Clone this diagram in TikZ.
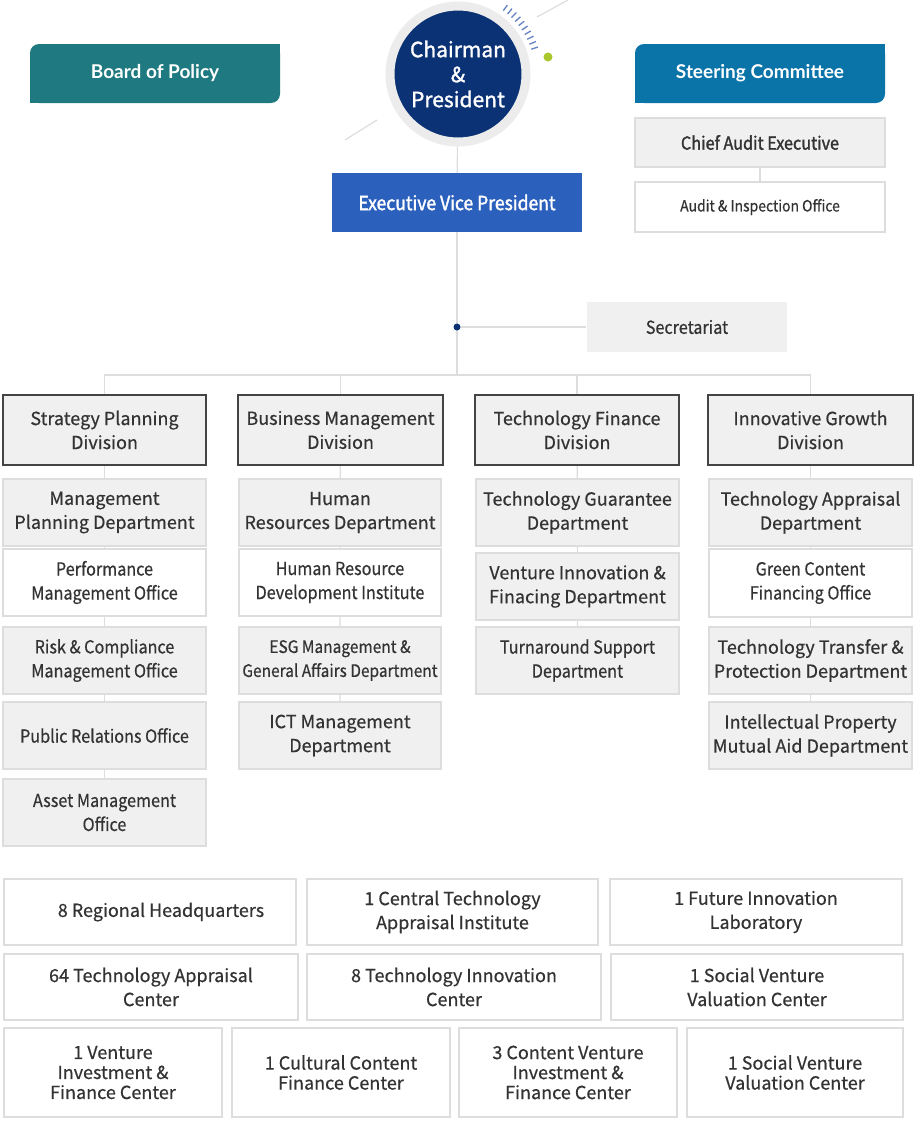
\documentclass[tikz,border=0pt]{standalone}
\usepackage{fontspec}
\setmainfont{Noto Sans CJK KR}[FakeBold=0.5]
\newfontfamily\condfont{Noto Sans CJK KR}[FakeStretch=0.9,FakeBold=0.5]
\newfontfamily\heavyfont{Noto Sans CJK KR}[FakeStretch=0.9,FakeBold=1.6]
\newfontfamily\chairfont{Noto Sans CJK KR}[FakeBold=1.4]
\newfontfamily\latofont{Lato}
\pgfdeclarelayer{background}
\pgfsetlayers{background,main}
\definecolor{navy}{RGB}{12,50,118}
\definecolor{ringgrey}{RGB}{236,236,236}
\definecolor{evpblue}{RGB}{44,96,189}
\definecolor{bopteal}{RGB}{30,122,128}
\definecolor{steerblue}{RGB}{10,115,168}
\definecolor{boxgrey}{RGB}{240,240,240}
\definecolor{edgegrey}{RGB}{221,221,221}
\definecolor{txt}{RGB}{51,51,51}
\definecolor{divedge}{RGB}{68,68,68}
\definecolor{tickblue}{RGB}{100,130,195}
\definecolor{limegreen}{RGB}{170,200,45}
\tikzset{
  base/.style={align=center, inner sep=0pt, text=txt, font=\fontsize{18}{24}\selectfont},
  cond/.style={font=\condfont\fontsize{18}{24}\selectfont},
  dept/.style={base, fill=boxgrey, draw=edgegrey, line width=1.2pt, minimum height=67},
  deptw/.style={dept, fill=white},
  divbox/.style={base, fill=boxgrey, draw=divedge, line width=2.2pt, minimum height=70},
  btm/.style={base, fill=white, draw=edgegrey, line width=2pt, minimum height=66},
  btm3/.style={btm, minimum height=89, font=\fontsize{18}{20}\selectfont},
  conn/.style={draw=edgegrey, line width=1.2pt},
  headbox/.style={minimum width=250, minimum height=59, text=white, inner sep=0pt, rounded corners=9pt, font=\latofont\bfseries\fontsize{19}{22}\selectfont},
  decoline/.style={draw=edgegrey, line width=1.2pt}
}
\begin{document}
\begin{tikzpicture}[x=1pt,y=-1pt]
\useasboundingbox (0,0) rectangle (915,1127);

% decorations round the chairman
\draw[decoline] (568,0) -- (537,17);
\draw[decoline] (377,120) -- (345,140);
\foreach \a in {18,22,...,54} \draw[tickblue, line width=1.3pt] (458,73) ++(\a:77pt) -- ++(\a:7pt);
\fill[limegreen] (548,57) circle (4.5pt);

\node[circle, fill=navy, draw=ringgrey, line width=9pt, minimum size=136, inner sep=0pt, text=white, align=center, font=\chairfont\fontsize{21}{25}\selectfont] (chair) at (458,74) {Chairman\\\&\\President};

% head boxes
\node[headbox, fill=bopteal] (bop) at (155,73.5) {Board of Policy};
\fill[bopteal] (bop.north east) rectangle ++(-12,12);
\fill[bopteal] (bop.south west) rectangle ++(12,-12);
\node[headbox, fill=steerblue] (steer) at (760,73.5) {Steering Committee};
\fill[steerblue] (steer.north east) rectangle ++(-12,12);
\fill[steerblue] (steer.south west) rectangle ++(12,-12);

\node[dept, minimum width=250, minimum height=49, font=\heavyfont\fontsize{18}{22}\selectfont] (cae) at (760,142.5) {Chief Audit Executive};
\node[deptw, minimum width=250, minimum height=50, font=\condfont\fontsize{15.5}{18}\selectfont] (aio) at (760,207) {Audit \& Inspection Office};

\node[fill=evpblue, minimum width=250, minimum height=59, inner sep=0pt, text=white, font=\heavyfont\fontsize{19.5}{22}\selectfont] (evp) at (457,202.5) {Executive Vice President};

\node[circle, fill=navy, inner sep=0pt, minimum size=7] (sdot) at (457,327) {};
\node[dept, draw=none, minimum width=200, minimum height=50, cond] (sec) at (687,327) {Secretariat};
\coordinate (hub) at (457,375);

% divisions
\node[divbox, minimum width=203] (spd) at (104.5,430) {Strategy Planning\\Division};
\node[divbox, minimum width=205] (bmd) at (340.5,430) {Business Management\\Division};
\node[divbox, minimum width=204] (tfd) at (577,430) {Technology Finance\\Division};
\node[divbox, minimum width=205] (igd) at (810.5,430) {Innovative Growth\\Division};

% strategy planning column
\node[dept, minimum width=203] (mp) at (104.5,512.5) {Management\\Planning Department};
\node[deptw, minimum width=203, cond] (pm) at (104.5,582.5) {Performance\\Management Office};
\node[dept, minimum width=203, cond] (rc) at (104.5,660.5) {Risk \& Compliance\\Management Office};
\node[dept, minimum width=203, cond] (pr) at (104.5,735.5) {Public Relations Office};
\node[dept, minimum width=203, cond] (am) at (104.5,812.5) {Asset Management\\Office};

% business management column
\node[dept, minimum width=202] (hr) at (340,512.5) {Human\\Resources Department};
\node[deptw, minimum width=202, cond] (hrd) at (340,582.5) {Human Resource\\Development Institute};
\node[dept, minimum width=202, font=\condfont\fontsize{17.2}{24}\selectfont] (esg) at (340,660.5) {ESG Management \&\\General Affairs Department};
\node[dept, minimum width=202] (ict) at (340,735.5) {ICT Management\\Department};

% technology finance column
\node[dept, minimum width=203] (tg) at (577.5,512.5) {Technology Guarantee\\Department};
\node[dept, minimum width=203] (vi) at (577.5,586.5) {Venture Innovation \&\\Finacing Department};
\node[dept, minimum width=203, cond] (ts) at (577.5,660.5) {Turnaround Support\\Department};

% innovative growth column
\node[dept, minimum width=203] (ta) at (810.5,512.5) {Technology Appraisal\\Department};
\node[deptw, minimum width=203, minimum height=68, cond] (gc) at (810.5,583) {Green Content\\Financing Office};
\node[dept, minimum width=203] (tt) at (810.5,660.5) {Technology Transfer \&\\Protection Department};
\node[dept, minimum width=203] (ip) at (810.5,735.5) {Intellectual Property\\Mutual Aid Department};

% bottom boxes
\node[btm, minimum width=292] (b1) at (150,912) {\hspace*{22pt}8 Regional Headquarters};
\node[btm, minimum width=291] (b2) at (452.5,912) {1 Central Technology\\Appraisal Institute};
\node[btm, minimum width=292] (b3) at (756,912) {1 Future Innovation\\Laboratory};
\node[btm, minimum width=294] (b4) at (151,987) {64 Technology Appraisal\\Center};
\node[btm, minimum width=294] (b5) at (454,987) {8 Technology Innovation\\Center};
\node[btm, minimum width=292] (b6) at (757,987) {1 Social Venture\\Valuation Center};
\node[btm3, minimum width=218] (b7) at (113,1072.5) {1 Venture\\Investment \&\\Finance Center};
\node[btm3, minimum width=218] (b8) at (341,1072.5) {1 Cultural Content\\Finance Center};
\node[btm3, minimum width=218] (b9) at (568,1072.5) {3 Content Venture\\Investment \&\\Finance Center};
\node[btm3, minimum width=216] (b10) at (795,1072.5) {1 Social Venture\\Valuation Center};

% connectors
\begin{pgfonlayer}{background}
\draw[conn] (chair) -- (evp);
\draw[conn] (cae) -- (aio);
\draw[conn] (evp) -- (hub);
\draw[conn] (sdot) -- (sec);
\draw[conn] (spd.north) -- (spd.north |- hub) -- (igd.north |- hub) -- (igd.north);
\draw[conn] (bmd.north) -- (bmd.north |- hub);
\draw[conn] (tfd.north) -- (tfd.north |- hub);
\draw[conn] (spd) -- (mp) -- (pm) -- (rc) -- (pr) -- (am);
\draw[conn] (bmd) -- (hr) -- (hrd) -- (esg) -- (ict);
\draw[conn] (tfd) -- (tg) -- (vi) -- (ts);
\draw[conn] (igd) -- (ta) -- (gc) -- (tt) -- (ip);
\end{pgfonlayer}
\end{tikzpicture}
\end{document}
